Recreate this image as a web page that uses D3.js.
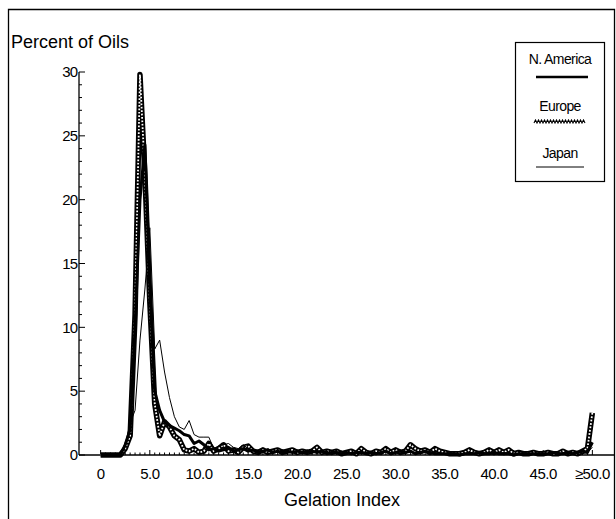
<!DOCTYPE html>
<html><head><meta charset="utf-8">
<script src="https://cdn.jsdelivr.net/npm/d3@7"></script>
<style>
html,body{margin:0;padding:0;background:#fff;}
text{font-family:"Liberation Sans",Arial,sans-serif;fill:#000;}
</style></head>
<body><svg id="c" width="616" height="519"></svg>
<script>
const gelIndex = [
 0,0.5,1,1.5,2,2.5,3,3.5,4,4.5,
 5,5.5,6,6.5,7,7.5,8,8.5,9,9.5,
 10,10.5,11,11.5,12,12.5,13,13.5,14,14.5,
 15,15.5,16,16.5,17,17.5,18,18.5,19,19.5,
 20,20.5,21,21.5,22,22.5,23,23.5,24,24.5,
 25,25.5,26,26.5,27,27.5,28,28.5,29,29.5,
 30,30.5,31,31.5,32,32.5,33,33.5,34,34.5,
 35,35.5,36,36.5,37,37.5,38,38.5,39,39.5,
 40,40.5,41,41.5,42,42.5,43,43.5,44,44.5,
 45,45.5,46,46.5,47,47.5,48,48.5,49,49.5,
 50];
const northAmerica = [
 0,0,0,0,0,0.8,2,10,20,24.3,
 13,5,3.5,2.6,2.3,2.1,1.9,1.6,1.5,0.9,
 1.1,0.8,0.4,0.5,0.3,0.4,0.6,0.3,0.4,0.5,
 0.3,0.4,0.2,0.3,0.4,0.2,0.3,0.2,0.3,0.2,
 0.3,0.2,0.2,0.3,0.2,0.3,0.1,0.2,0.2,0.1,
 0.2,0.1,0.2,0.2,0.1,0.2,0.1,0.2,0.3,0.1,
 0.2,0.3,0.2,0.3,0.1,0.2,0.3,0.2,0.1,0.1,
 0.1,0.1,0.1,0.0,0.1,0.1,0.1,0.2,0.1,0.1,
 0.2,0.1,0.1,0.1,0.0,0.1,0.1,0.1,0.1,0.1,
 0.1,0.1,0.2,0.1,0.1,0.2,0.1,0.2,0.3,0.2,
 1.0];
const europe = [
 0,0,0,0,0,0.5,1.5,11,29.8,22,
 12,4,1.5,2.6,2.2,1.5,1.2,0.4,0.3,0.5,
 0.2,0.3,0.9,0.3,0.5,0.8,0.3,0.4,0.2,0.6,
 0.7,0.3,0.2,0.4,0.2,0.3,0.4,0.2,0.3,0.4,
 0.2,0.3,0.2,0.3,0.6,0.2,0.3,0.2,0.3,0.1,
 0.2,0.3,0.1,0.5,0.2,0.1,0.3,0.2,0.5,0.2,
 0.4,0.2,0.3,0.8,0.5,0.3,0.4,0.2,0.5,0.3,
 0.2,0.1,0.1,0.1,0.2,0.4,0.2,0.1,0.2,0.4,
 0.2,0.4,0.2,0.4,0.1,0.2,0.1,0.1,0.2,0.1,
 0.1,0.2,0.1,0.1,0.3,0.1,0.2,0.1,0.3,0.5,
 3.3];
const japan = [
 0,0,0,0,0,0.8,2.5,3.5,9,13,
 17.8,8.3,9,6.5,4.5,3,2.2,2,2.7,1.6,
 1.4,1.4,1.4,0.5,0.7,0.8,0.9,0.6,0.5,0.8,
 0.5,0.3,0.4,0.3,0.5,0.3,0.2,0.4,0.3,0.2,
 0.3,0.2,0.4,0.2,0.3,0.2,0.3,0.1,0.2,0.3,
 0.1,0.2,0.2,0.1,0.2,0.3,0.1,0.2,0.2,0.1,
 0.2,0.1,0.3,0.2,0.2,0.1,0.2,0.1,0.2,0.1,
 0.1,0.2,0.1,0.1,0.1,0.2,0.1,0.1,0.2,0.1,
 0.1,0.1,0.2,0.1,0.1,0.1,0.2,0.1,0.1,0.1,
 0.1,0.1,0.1,0.2,0.1,0.1,0.1,0.2,0.1,0.2,
 0.6];
const xTickValues = [0,5,10,15,20,25,30,35,40,45,50];
const xTickLabels = ["0","5.0","10.0","15.0","20.0","25.0","30.0","35.0","40.0","45.0","\u226550.0"];
const yTickValues = [0,5,10,15,20,25,30];
const seriesNames = ["N. America","Europe","Japan"];

const svg = d3.select("#c");
svg.append("path").attr("d","M8.5,519 V9.5 H614.5 V519").attr("fill","none").attr("stroke","#000").attr("stroke-width",1.3);

const x = d3.scaleLinear().domain([-2.2,52.2]).range([79,614]);
const y = d3.scaleLinear().domain([0,30]).range([455,72]);

// y axis
const gy = svg.append("g").attr("transform","translate(79,0)");
gy.append("line").attr("x1",0).attr("x2",0).attr("y1",y(0)).attr("y2",y(30)).attr("stroke","#000").attr("stroke-width",1.3);
gy.selectAll(".mt").data(d3.range(0,31,1)).join("line")
  .attr("x1",0).attr("x2",d=>d%5===0?6:3).attr("y1",d=>y(d)).attr("y2",d=>y(d))
  .attr("stroke","#000").attr("stroke-width",1);
gy.selectAll(".yl").data(yTickValues).join("text")
  .attr("x",-2).attr("y",d=>y(d)).attr("dy","0.35em").attr("text-anchor","end")
  .attr("font-size",15).attr("letter-spacing",-1).text(d=>d);

// x axis
const gx = svg.append("g");
gx.append("line").attr("x1",79).attr("x2",614).attr("y1",455).attr("y2",455).attr("stroke","#000").attr("stroke-width",1.3);
gx.selectAll(".mt").data(gelIndex).join("line")
  .attr("x1",d=>x(d)).attr("x2",d=>x(d)).attr("y1",455).attr("y2",d=>d%5===0?450:452.5)
  .attr("stroke","#000").attr("stroke-width",1);
gx.selectAll(".xl").data(xTickValues).join("text")
  .attr("x",d=>x(d)).attr("y",479).attr("text-anchor","middle")
  .attr("font-size",15).attr("letter-spacing",-0.5).text((d,i)=>xTickLabels[i]);

svg.append("text").attr("x",11).attr("y",48).attr("font-size",18).text("Percent of Oils");
svg.append("text").attr("x",342).attr("y",506).attr("text-anchor","middle").attr("font-size",18).text("Gelation Index");

const line = d3.line().x((d,i)=>x(gelIndex[i])).y(d=>y(d));

svg.append("path").datum(europe).attr("d",line).attr("fill","none")
  .attr("stroke","#000").attr("stroke-width",5.5).attr("stroke-linejoin","round");
svg.append("path").datum(europe).attr("d",line).attr("fill","none")
  .attr("stroke","#fff").attr("stroke-width",1.8).attr("stroke-dasharray","1.7,1.7");
svg.append("path").datum(northAmerica).attr("d",line).attr("fill","none")
  .attr("stroke","#000").attr("stroke-width",3).attr("stroke-linejoin","round");
svg.append("path").datum(japan).attr("d",line).attr("fill","none")
  .attr("stroke","#000").attr("stroke-width",1);

// legend
const lg = svg.append("g");
lg.append("rect").attr("x",515.5).attr("y",42.5).attr("width",89).attr("height",139)
  .attr("fill","#fff").attr("stroke","#000").attr("stroke-width",1.2);
const ly = [59,106,153];
lg.selectAll(".lt").data(seriesNames).join("text")
  .attr("x",560).attr("y",(d,i)=>ly[i]).attr("dy","0.35em").attr("text-anchor","middle")
  .attr("font-size",14).attr("letter-spacing",-0.6).text(d=>d);
lg.append("line").attr("x1",536).attr("x2",588).attr("y1",77).attr("y2",77).attr("stroke","#000").attr("stroke-width",2.5);
const zig = d3.range(534,586,1.5).map((v,i)=>[v, i%2?120:123]);
lg.append("path").attr("d",d3.line()(zig)).attr("fill","none").attr("stroke","#000").attr("stroke-width",1.1);
lg.append("line").attr("x1",536).attr("x2",584).attr("y1",167).attr("y2",167).attr("stroke","#000").attr("stroke-width",1);
</script></body></html>
